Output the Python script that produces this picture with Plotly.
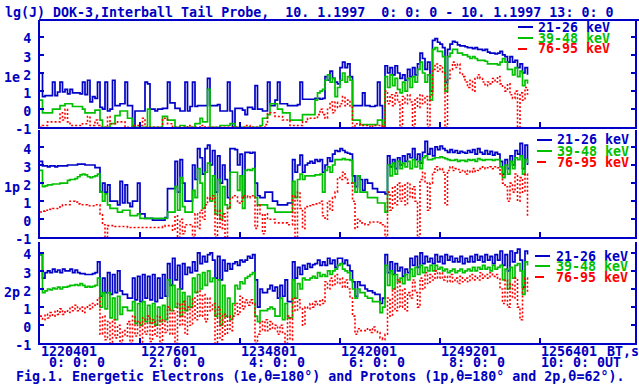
import plotly.graph_objects as go

# ---------------- data (hours after 0:00 UT, lg J) ----------------
hours = [round(0.05 * i, 2) for i in range(196)]

# panel 1e : electrons
e_21_26 = [
    2.0, 0.7, 0.75, 0.75, 0.75, 1.5, 0.75, 0.95, 1.5, 0.95,
    1.1, 0.85, 1.1, 0.9, 0.9, 0.9, 0.85, 1.5, 0.8, 1.6,
    0.4, 0.7, 0.6, 1.5, 0.1, 0.0, 1.5, -0.1, 0.0, 1.6,
    0.2, 0.2, 0.3, 0.3, 1.5, 0.2, 0.2, -1.0, -0.1, -0.1,
    -0.1, -0.1, 1.5, 1.4, 0.0, 0.0, -0.1, 0.0, 0.0, 0.05,
    0.05, 1.5, 0.35, 0.35, 0.05, 0.05, -0.1, -0.1, 1.5, -0.1,
    0.15, 1.5, 0.15, 0.2, 0.2, 0.2, 0.2, 1.7, 0.2, 0.2,
    0.2, 0.25, -0.1, -0.1, -0.1, 1.5, -0.1, -1.0, 0.05, 0.05,
    0.05, -0.05, -0.3, 0.1, 0.1, 0.0, 1.3, 0.0, 0.0, -0.1,
    -0.1, 1.5, 0.2, 0.2, 0.5, 1.5, 0.3, 0.3, 0.3, 0.2,
    0.2, 0.2, 0.2, 0.25, 1.5, 0.55, 0.55, 0.55, 0.55, 0.55,
    0.6, 0.6, 0.55, 0.6, 1.8, 1.6, 2.1, 1.7, 1.5, 1.4,
    2.3, 2.6, 2.3, 2.5, 1.8, 0.2, 0.2, 0.2, 0.2, 0.9,
    0.2, 0.2, 0.15, 0.15, 0.2, 1.5, 0.2, -1.0, 2.4, 2.0,
    2.3, 1.9, 2.4, 2.0, 1.7, 1.9, 1.6, 2.2, 1.8, 2.3,
    1.9, 2.5, 3.1, 2.8, 2.2, 2.6, 1.0, 3.8, 3.9, 3.7,
    3.6, 3.4, 1.5, 3.3, 3.6, 3.75, 3.7, 3.55, 3.5, 3.5,
    3.45, 3.4, 3.4, 3.35, 3.4, 3.3, 3.3, 3.25, 3.3, 3.15,
    3.1, 3.1, 3.05, 3.1, 3.2, 3.0, 2.9, 2.6, 2.9, 2.6,
    2.7, 2.3, 2.5, 2.0, 2.3, 1.9]
e_39_48 = [
    0.5, -0.2, -0.2, -0.2, -0.2, 0.0, 0.0, 0.0, 0.2, 0.2,
    0.3, 0.3, 0.3, 0.15, 0.15, 0.15, 0.15, 0.0, -0.2, -0.2,
    -0.2, -0.2, -0.05, -0.05, -0.6, -1.0, -1.0, -1.0, -0.8, -0.8,
    -0.35, -0.35, -0.1, -0.1, -0.1, -0.5, -0.5, -1.0, -1.0, -1.0,
    -1.0, -1.0, -1.0, 0.0, -1.0, -1.0, -1.0, -1.0, -1.0, -0.4,
    -0.4, -0.6, -0.6, -0.6, -1.0, -1.0, -0.9, -0.9, -1.0, -1.0,
    -1.0, -1.0, -0.8, -0.8, -0.5, -0.7, -0.7, 1.1, -1.0, -1.0,
    -1.0, -1.0, -0.9, -0.9, -0.9, -0.9, -0.8, -0.8, -1.0, -1.0,
    -1.0, -1.0, -1.0, -1.0, -1.0, -1.0, -1.0, -1.0, -0.9, -0.5,
    -0.5, -0.3, 0.3, 0.3, 0.3, 0.0, 0.0, -0.2, -0.2, -0.2,
    -0.6, -0.6, -0.6, -0.6, -0.6, -0.3, -0.3, -0.3, -0.3, -0.3,
    0.5, 0.9, 1.0, 1.1, 1.6, 1.9, 1.5, 1.7, 0.7, 1.2,
    1.6, 2.0, 1.5, 1.8, 1.6, -0.6, -0.6, -0.6, -0.85, -0.85,
    -0.85, -0.85, -0.85, -0.85, -0.85, -0.6, -0.6, -1.0, 1.8, 1.2,
    1.9, 1.3, 1.7, 1.1, 0.9, 1.5, 1.0, 1.7, 1.2, 1.8,
    1.5, 2.2, 2.6, 2.0, 1.5, 1.9, 0.5, 3.3, 3.4, 3.2,
    3.2, 2.9, 1.0, 2.9, 3.1, 3.3, 3.3, 3.1, 3.1, 3.0,
    3.0, 2.9, 2.8, 2.9, 2.8, 2.7, 2.7, 2.7, 2.65, 2.5,
    2.5, 2.5, 2.5, 2.45, 2.6, 2.8, 2.6, 2.2, 2.2, 1.9,
    2.3, 1.8, 2.1, 1.3, 1.6, 1.4]
e_76_95 = [
    -1.0, -0.9, -0.9, -0.7, -0.7, -0.7, -0.7, -0.7, -0.2, -0.6,
    0.0, -0.7, -0.9, -0.9, -0.9, -0.9, -0.9, -0.8, -0.8, -0.4,
    -0.9, -0.9, -0.6, -0.9, -1.0, -1.0, -1.0, -0.4, -0.8, -0.8,
    -0.8, -0.7, -0.7, -0.7, -1.0, -1.0, -1.0, -0.9, -0.9, -0.9,
    -0.9, -0.5, -1.0, -1.0, -1.0, -1.0, -1.0, -1.0, -1.0, -0.5,
    -0.5, -0.8, -0.8, -1.0, -1.0, -1.0, -1.0, -1.0, -1.0, -0.9,
    -1.0, -1.0, -1.0, -1.0, -0.9, -0.9, -1.0, -1.0, -1.0, -1.0,
    -1.0, -1.0, -1.0, -1.0, -1.0, -1.0, -1.0, -1.0, -1.0, -1.0,
    -1.0, -1.0, -0.9, -0.9, -1.0, -1.0, -1.0, -1.0, -1.0, -1.0,
    -0.85, -0.2, -0.2, -0.2, -0.4, -0.4, -0.4, -0.6, -0.6, -0.6,
    -0.9, -0.9, -0.9, -0.9, -0.9, -0.7, -0.7, -0.5, -0.5, -0.5,
    -0.5, -0.3, 0.0, -0.3, -0.5, 0.0, 0.4, -0.2, 0.4, 0.1,
    0.3, 0.7, 0.2, 0.5, 0.1, -1.0, -0.8, -0.8, -0.9, -0.9,
    -0.9, -0.9, -1.0, -0.9, -0.9, -0.9, -0.9, -1.0, 1.0, 0.3,
    0.8, 0.2, 0.9, 0.4, -1.0, 0.7, 0.3, 0.8, 0.4, -1.0,
    0.6, 0.1, 0.8, 0.3, 0.7, -1.0, 0.8, 2.2, 2.5, 2.1,
    2.4, 2.0, -1.0, 1.7, 2.2, 2.6, 2.3, 2.5, 2.0, 1.8,
    1.5, 1.2, 1.6, 1.0, 1.7, 1.9, 1.7, 1.5, 1.3, 1.5,
    1.4, 1.7, 1.5, 1.8, 1.4, 1.2, 1.0, 1.4, 0.8, 0.6,
    1.0, -1.0, 0.9, 0.5, 1.2, 0.8]

# panel 1p : protons, theta = 180
p1_21_26 = [
    3.2, 2.95, 2.95, 2.9, 2.95, 2.95, 2.9, 2.95, 2.95, 2.95,
    2.95, 3.0, 3.0, 3.0, 3.0, 3.05, 3.05, 3.05, 3.0, 3.0,
    3.0, 3.0, 2.85, 2.85, 1.5, 2.0, 1.5, 1.9, 1.0, 1.0,
    1.0, 0.8, 2.1, 0.9, 1.9, 0.9, 0.7, 1.0, 1.0, 2.0,
    0.3, 0.3, 0.05, 0.05, 0.05, -0.05, -0.05, -0.05, -0.05, -0.05,
    0.1, 1.7, 1.7, 1.7, 3.2, 1.5, 3.3, 2.0, 1.0, 1.0,
    1.0, 3.0, 2.2, 3.9, 3.4, 2.5, 3.9, 4.1, 3.0, 3.8,
    1.5, 3.5, 2.0, 3.0, 2.2, 1.2, 3.9, 3.9, 3.85, 3.0,
    3.6, 1.2, 3.7, 3.7, 3.65, 3.7, 2.0, 1.3, 1.2, 1.2,
    1.5, 1.5, 1.5, 1.0, 1.0, 0.8, 0.8, 0.8, 0.8, 0.9,
    0.9, 3.3, 2.6, 3.0, 3.55, 2.6, 3.0, 3.1, 3.2, 3.1,
    3.3, 3.2, 3.3, 2.6, 3.0, 3.4, 3.2, 3.6, 3.8, 3.75,
    3.9, 3.8, 3.7, 3.65, 3.6, 2.4, 1.8, 2.4, 2.2, 1.6,
    2.2, 2.0, 2.0, 1.7, 1.7, 1.5, 1.5, 1.5, 1.4, 3.5,
    2.9, 3.3, 2.8, 3.4, 3.0, 3.5, 3.2, 3.6, 3.4, 3.9,
    3.3, 3.6, 3.1, 3.7, 4.3, 3.6, 3.9, 3.5, 4.0, 3.85,
    4.05, 3.9, 3.8, 3.7, 3.85, 3.7, 3.8, 3.65, 3.75, 3.7,
    3.65, 3.8, 3.7, 3.85, 3.6, 3.9, 3.7, 3.6, 3.8, 3.6,
    3.75, 3.55, 3.7, 3.6, 3.2, 2.5, 3.3, 2.8, 3.5, 3.0,
    3.8, 3.6, 4.2, 2.8, 4.1, 3.0]
p1_39_48 = [
    2.7, 1.8, 1.85, 1.9, 1.9, 1.95, 1.95, 1.95, 2.0, 2.0,
    2.0, 2.15, 2.2, 2.2, 2.25, 2.35, 2.45, 2.5, 2.45, 2.35,
    2.3, 2.35, 2.4, 2.5, 1.5, 1.0, 1.4, 0.8, 0.6, 0.6,
    0.6, 0.4, 0.4, 0.5, 0.5, 0.5, 0.2, 0.2, 0.2, 0.3,
    0.05, 0.05, 0.05, 0.05, 0.05, 0.05, 0.05, 0.05, 0.05, 0.05,
    0.05, 0.4, 0.4, 0.4, 1.8, 0.5, 2.3, 0.7, 0.4, 0.4,
    0.4, 1.6, 1.2, 2.8, 2.0, 0.6, 2.6, 3.1, 1.0, 2.4,
    0.3, 2.2, 0.0, 1.8, 0.8, 0.6, 2.6, 2.6, 2.6, 1.6,
    2.4, 0.6, 2.7, 2.75, 2.7, 2.8, 1.2, 0.8, 0.8, 0.8,
    0.8, 0.6, 0.6, 0.6, 0.4, 0.4, 0.4, 0.4, 0.4, 0.4,
    0.4, 2.1, 1.2, 2.2, 2.5, 2.2, 2.4, 2.4, 2.4, 2.4,
    2.45, 2.45, 2.5, 1.5, 2.7, 2.9, 2.6, 3.0, 3.3, 3.3,
    3.3, 3.35, 3.3, 3.3, 3.25, 2.0, 1.5, 2.4, 1.5, 1.5,
    1.5, 1.2, 1.2, 1.2, 1.2, 0.9, 0.9, 0.9, 0.4, 3.0,
    2.4, 3.1, 2.5, 3.2, 2.8, 3.1, 2.9, 3.2, 2.8, 3.3,
    2.9, 3.2, 2.8, 3.4, 3.5, 3.3, 3.3, 3.35, 3.4, 3.4,
    3.45, 3.4, 3.35, 3.3, 3.25, 3.25, 3.3, 3.2, 3.25, 3.25,
    3.2, 3.3, 3.25, 3.3, 3.2, 3.35, 3.3, 3.25, 3.3, 3.3,
    3.3, 3.25, 3.3, 3.3, 2.9, 2.3, 3.0, 2.5, 3.2, 2.8,
    3.4, 3.3, 3.5, 2.5, 3.3, 3.1]
p1_76_95 = [
    0.4, 0.45, 0.5, 0.5, 0.55, 0.6, 0.6, 0.6, 0.75, 0.8,
    0.8, 0.8, 1.0, 1.0, 0.95, 0.85, 0.8, 0.8, 0.8, 0.75,
    0.75, 0.75, 0.8, 0.8, 0.3, -0.3, -1.0, -0.35, -0.35, -0.35,
    -0.4, -0.4, -0.4, -0.4, -0.4, -0.45, -0.45, -0.45, -0.45, -0.45,
    -0.45, -0.45, -0.45, -0.45, -0.45, -0.45, -0.45, -0.45, -0.45, -0.4,
    -0.35, -0.35, -0.35, -0.6, 0.2, -1.0, 0.0, -0.8, -0.3, -0.3,
    -0.3, -1.0, 0.3, -0.5, 0.5, 0.0, 0.8, 1.2, 1.1, 1.3,
    -1.0, 0.5, -0.5, 0.3, -1.0, 0.6, 1.2, 1.3, 1.3, 0.9,
    1.0, 1.3, 1.3, 1.2, 1.3, 1.3, -0.5, 0.8, 0.3, -0.8,
    0.3, 0.0, 0.0, 0.0, -0.2, -0.2, -0.2, -0.2, -0.2, -0.3,
    -0.3, 1.3, -1.0, 1.5, 0.6, -0.5, 0.7, 0.7, 0.75, 0.8,
    0.85, 0.9, 1.0, 0.2, 0.0, 1.0, 0.5, 1.2, 1.5, 2.3,
    2.2, 2.6, 2.3, 2.0, 2.0, 1.0, -0.5, 0.0, -0.2, -0.2,
    -0.3, -0.3, -0.15, -0.15, -0.15, -0.15, -0.2, -0.3, -1.0, 1.5,
    0.5, 1.8, 0.8, 2.0, 1.0, 1.9, 0.8, 2.0, 1.2, 1.8,
    1.0, -1.0, 2.2, 2.6, 2.0, 0.5, 2.0, 2.6, 2.9, 2.7,
    2.8, 2.6, 0.8, 2.7, 2.9, 2.7, 2.8, 2.75, 2.6, 2.7,
    2.5, 2.7, 2.6, 2.8, 2.65, 2.7, 2.8, 2.9, 2.8, 2.85,
    2.9, 2.8, 2.9, 2.85, 2.5, 2.0, 1.8, 1.0, 2.0, 1.5,
    2.5, 1.0, 2.3, 1.5, 2.5, 0.2]

# panel 2p : protons, theta = 62
p2_21_26 = [
    3.9, 2.6, 2.9, 3.0, 2.9, 3.1, 2.95, 3.05, 2.9, 3.1,
    3.0, 3.0, 3.1, 2.9, 3.05, 2.9, 2.85, 2.85, 2.8, 2.8,
    2.8, 2.85, 2.9, 3.5, 1.6, 2.6, 1.8, 2.9, 1.7, 2.8,
    1.8, 3.0, 1.9, 1.7, 1.7, 1.5, 1.5, 2.6, 1.4, 2.7,
    1.3, 2.8, 1.5, 2.7, 1.4, 2.8, 1.3, 2.6, 1.5, 2.8,
    1.6, 3.4, 2.2, 3.7, 2.5, 3.3, 2.0, 3.4, 2.8, 3.2,
    2.9, 3.5, 3.0, 4.0, 3.4, 3.8, 3.5, 3.9, 4.0, 3.6,
    2.6, 3.8, 2.5, 3.6, 3.0, 3.4, 3.1, 3.4, 3.5, 3.3,
    3.6, 3.5, 3.6, 3.8, 3.7, 3.9, 2.5, 1.0, 2.0, 1.8,
    1.8, 2.0, 2.2, 1.9, 2.1, 1.5, 2.2, 1.6, 2.5, 1.3,
    1.3, 3.5, 2.6, 3.2, 2.8, 3.3, 3.1, 3.4, 3.2, 3.35,
    3.4, 3.6, 3.3, 3.5, 3.3, 3.7, 3.4, 3.6, 3.2, 3.7,
    3.7, 3.4, 3.6, 3.3, 3.0, 2.4, 1.6, 2.4, 2.2, 2.2,
    2.0, 1.9, 1.9, 1.8, 1.7, 1.7, 1.2, 1.5, 3.9, 2.9,
    3.5, 2.8, 3.4, 3.0, 3.2, 2.7, 3.1, 2.9, 3.7, 3.3,
    3.8, 3.2, 4.0, 3.4, 3.8, 3.5, 3.7, 3.4, 3.9, 3.5,
    3.8, 3.4, 3.9, 3.6, 3.8, 3.5, 3.7, 3.5, 3.8, 3.4,
    3.7, 3.5, 3.8, 3.5, 3.9, 3.6, 3.8, 3.5, 3.9, 3.6,
    3.8, 3.4, 3.9, 3.6, 4.1, 3.3, 3.9, 3.0, 4.1, 3.5,
    4.0, 4.2, 3.6, 2.1, 4.1, 3.9]
p2_39_48 = [
    3.9, 1.8, 1.9, 2.0, 1.95, 2.05, 2.0, 2.1, 2.0, 2.1,
    2.1, 2.15, 2.2, 2.2, 2.25, 2.2, 2.3, 2.2, 2.1, 2.15,
    2.1, 2.15, 2.2, 2.6, 1.0, 1.8, 0.9, 1.8, 0.4, 1.5,
    0.3, 1.6, 0.6, 1.0, 1.0, 0.8, 0.8, 1.3, 0.1, 1.2,
    0.0, 1.3, 0.2, 1.1, 0.1, 1.2, 0.0, 1.0, 0.2, 1.1,
    0.3, 2.5, 0.8, 2.2, 1.0, 2.0, 0.5, 1.8, 0.8, 1.6,
    1.0, 2.6, 1.8, 2.8, 2.0, 2.9, 2.2, 3.0, 2.4, 2.6,
    0.5, 2.5, 0.0, 2.2, 0.5, 1.5, 0.3, 1.2, 2.2, 2.0,
    2.4, 2.3, 2.6, 2.7, 2.8, 2.9, 0.5, 0.2, 0.8, 0.8,
    0.8, 0.9, 1.0, 0.9, 0.5, 0.5, 1.5, 0.3, 1.2, 0.4,
    0.4, 2.5, 1.5, 2.3, 2.0, 2.6, 2.5, 2.5, 2.6, 2.7,
    2.6, 2.9, 2.7, 2.8, 2.7, 3.0, 2.8, 3.0, 3.1, 3.3,
    3.4, 3.1, 3.0, 2.9, 2.5, 2.0, 1.5, 2.0, 1.8, 1.8,
    1.6, 1.5, 1.5, 1.3, 1.3, 1.3, 0.7, 1.0, 3.3, 2.2,
    3.0, 2.0, 2.8, 2.4, 2.6, 2.3, 2.8, 2.5, 3.1, 2.7,
    3.2, 2.8, 3.3, 2.9, 3.2, 3.0, 3.3, 3.0, 3.3, 3.1,
    3.2, 3.0, 3.1, 2.9, 3.0, 3.1, 2.9, 3.0, 3.1, 2.9,
    3.0, 3.1, 3.0, 3.2, 3.0, 3.2, 3.1, 3.3, 3.1, 3.2,
    3.0, 3.3, 3.1, 3.2, 3.3, 2.5, 3.1, 2.0, 3.2, 2.6,
    3.3, 3.4, 3.0, 1.7, 3.5, 3.3]
p2_76_95 = [
    0.5, 0.3, 0.6, 0.4, 0.7, 0.5, 0.8, 0.6, 0.9, 0.6,
    0.8, 0.7, 1.0, 0.8, 1.1, 0.8, 1.0, 0.7, 1.0, 1.1,
    0.9, 1.2, 1.1, 1.5, -0.5, 0.5, -0.8, 0.2, -1.0, 0.3,
    -0.7, 0.0, -1.0, -0.3, -0.6, 0.2, -1.0, 0.5, -0.6, 0.2,
    -1.0, 0.4, -0.5, 0.5, -0.9, 0.3, -0.6, 0.5, -1.0, 0.3,
    -0.4, 1.0, -0.5, 0.8, -1.0, 1.2, 0.0, 1.3, -0.5, 1.0,
    0.0, 1.5, 0.3, 1.9, 0.5, 1.7, 0.2, 1.5, 0.8, 1.2,
    -1.0, 1.0, -0.8, 0.6, -0.5, 0.5, -0.3, 0.5, 1.2, 0.6,
    1.6, 0.9, 1.4, 1.1, 1.4, 1.2, -1.0, -0.5, 0.2, -0.3,
    0.3, -0.3, 0.2, -0.2, 0.0, -0.5, 0.0, -0.4, -1.0, 0.5,
    -0.8, 1.5, 0.8, 1.4, 0.9, 0.0, 1.0, 0.9, 1.2, 1.0,
    1.3, 1.1, 1.4, 1.2, 2.4, 2.0, 2.6, 2.2, 2.8, 2.3,
    2.6, 2.1, 2.5, 2.0, 1.5, 0.5, -0.5, -0.2, -0.3, -0.3,
    -0.3, -0.2, -0.4, -0.1, -0.3, -0.4, -0.7, -0.8, -0.5, 1.5,
    0.5, 2.0, 0.8, 2.5, 1.0, 2.0, 0.8, 1.8, 1.5, 2.5,
    1.8, 1.0, 2.6, 2.0, 2.9, 2.3, 2.8, 2.5, 3.0, 2.6,
    2.9, 2.5, 2.7, 2.4, 2.8, 2.4, 2.6, 2.3, 2.7, 2.4,
    2.6, 2.4, 2.8, 2.5, 2.7, 2.5, 2.9, 2.6, 2.8, 2.6,
    2.9, 2.7, 2.8, 2.6, 2.0, 1.2, 2.5, 1.0, 2.3, 1.5,
    2.6, 1.0, 0.3, 2.0, 2.6, 1.8]

panel_names = ["1e", "1p", "2p"]
channels = ["21-26 keV", "39-48 keV", "76-95 keV"]
x_tick_hours = [0, 2, 4, 6, 8, 10]
bt_labels = ["1220401", "1227601", "1234801", "1242001", "1249201", "1256401"]
ut_labels = ["\u00a00: 0: 0", "\u00a02: 0: 0", "\u00a04: 0: 0", "\u00a06: 0: 0", "\u00a08: 0: 0", "10: 0: 0UT"]
y_tick_vals = [-1, 0, 1, 2, 3, 4]
y_tick_text = ["-1", "0", "1", "2", "3", "4"]

# ---------------- style ----------------
W, H = 639, 384
L_PX, R_PX = 40, 635
BLUE = "#0000C8"
GREEN = "#00C000"
RED = "#FF0000"
TXT = "#0000C0"
FONT = "DejaVu Sans Mono"
FS = 13.3

def px_x(px):
    return (px - L_PX) / (R_PX - L_PX)

def px_y(py):
    return 1 - py / H

# panel pixel extents (top, bottom) and y ranges
panel_px = [(20, 127.3), (130, 237.4), (241.7, 343.3)]
unit_px = 18.1

series = [(e_21_26, e_39_48, e_76_95),
          (p1_21_26, p1_39_48, p1_76_95),
          (p2_21_26, p2_39_48, p2_76_95)]

fig = go.Figure()
for k, trio in enumerate(series, start=1):
    xa = "x" if k == 1 else f"x{k}"
    ya = "y" if k == 1 else f"y{k}"
    for vals, col, dash, w in zip(trio, [BLUE, GREEN, RED], ["solid", "solid", "2px,2px"], [1.7, 1.7, 1.6]):
        fig.add_trace(go.Scatter(
            x=hours, y=vals, xaxis=xa, yaxis=ya, mode="lines",
            line=dict(color=col, width=w, shape="hv", dash=dash),
            showlegend=False, hoverinfo="skip"))

layout = dict(
    width=W, height=H, autosize=False,
    margin=dict(l=L_PX, r=W - R_PX, t=0, b=0, pad=0),
    paper_bgcolor="white", plot_bgcolor="white",
    showlegend=False,
    font=dict(family=FONT, size=FS, color=TXT, weight="bold"),
)
for k, (top, bot) in enumerate(panel_px, start=1):
    xk = "xaxis" if k == 1 else f"xaxis{k}"
    yk = "yaxis" if k == 1 else f"yaxis{k}"
    ytop = -1 + (bot - top) / unit_px
    layout[xk] = dict(
        domain=[0, 1], range=[0, 11.9], anchor="y" if k == 1 else f"y{k}",
        showline=True, linecolor=BLUE, linewidth=2, automargin=False,
        ticks="inside", tickvals=x_tick_hours, ticklen=5, tickcolor=BLUE, tickwidth=1.5,
        showticklabels=False, showgrid=False, zeroline=False, fixedrange=True)
    layout[yk] = dict(
        domain=[px_y(bot), px_y(top)], range=[-1, ytop], anchor="x" if k == 1 else f"x{k}",
        showline=True, linecolor=BLUE, linewidth=2, mirror="ticks", automargin=False,
        ticks="inside", ticklen=4, tickcolor=BLUE, tickwidth=1.5,
        tickvals=y_tick_vals, ticktext=y_tick_text,
        tickfont=dict(family=FONT, size=FS, color=TXT, weight="bold"),
        ticklabelstandoff=4, ticklabelshift=2,
        showgrid=False, zeroline=False, fixedrange=True)
fig.update_layout(**layout)

ann = []
shapes = []

def text(x, y, s, color=TXT, xanchor="left", xref="paper"):
    ann.append(dict(x=x, y=y, xref=xref, yref="paper", text=s, showarrow=False,
                    xanchor=xanchor, yanchor="middle", borderpad=0,
                    font=dict(family=FONT, size=FS, color=color, weight="bold")))

# title + underline
text(px_x(4), px_y(13), "lg(J) DOK-3,Interball Tail Probe,\u00a0\u00a010. 1.1997\u00a0\u00a00: 0: 0 - 10. 1.1997 13: 0: 0")
shapes.append(dict(type="line", xref="paper", yref="paper", x0=px_x(39), x1=px_x(639),
                   y0=px_y(20), y1=px_y(20), line=dict(color=BLUE, width=2)))

# panel labels
for name, py in zip(panel_names, [77, 187, 292]):
    text(px_x(3), px_y(py), name)

# bottom time labels (placed on the x scale)
for h, bt, ut in zip(x_tick_hours, bt_labels, ut_labels):
    text(h, px_y(351.5), bt, xref="x3")
    text(h, px_y(362.5), ut, xref="x3")
text(px_x(606), px_y(351.5), "BT,s")

# caption
text(px_x(15), px_y(376.5), "Fig.1. Energetic Electrons (1e,\u03b8=180\u00b0) and Protons (1p,\u03b8=180\u00b0 and 2p,\u03b8=62\u00b0).")

# legends
legend_pos = [(518, 537, [27, 38, 49]), (537, 556, [140, 151, 162]), (535, 555, [256, 266, 277])]
for (lx, tx, rows) in legend_pos:
    for ch, col, dash, py in zip(channels, [BLUE, GREEN, RED], ["solid", "solid", "dash"], rows):
        shapes.append(dict(type="line", xref="paper", yref="paper",
                           x0=px_x(lx), x1=px_x(lx + 15), y0=px_y(py), y1=px_y(py),
                           line=dict(color=col, width=2, dash=dash)))
        text(px_x(tx), px_y(py), ch, color=col)

fig.update_layout(annotations=ann, shapes=shapes)

page_fix = ("document.documentElement.style.margin='0';"
            "document.body.style.margin='0';document.body.style.padding='0';"
            "document.body.style.overflow='hidden';"
            "window.dispatchEvent(new Event('resize'));")
fig.write_html("out.html", post_script=page_fix, config={"displayModeBar": False})
